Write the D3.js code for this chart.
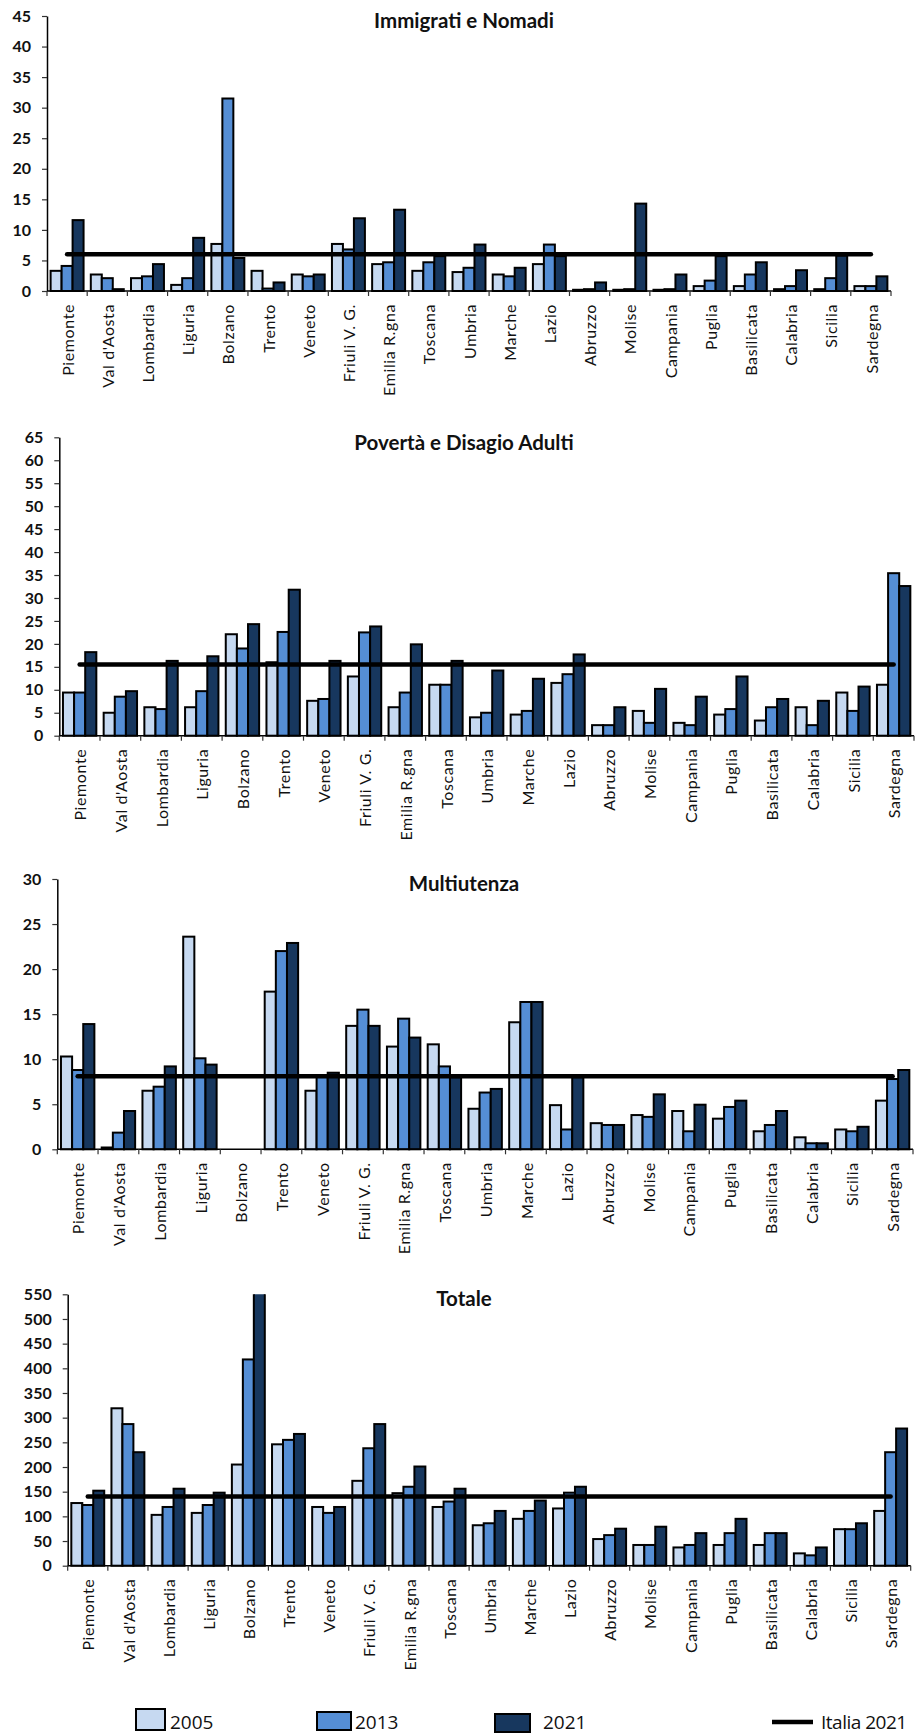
<!DOCTYPE html>
<html><head><meta charset="utf-8">
<script src="https://cdn.jsdelivr.net/npm/d3@7"></script>
<style>body{margin:0;background:#fff} svg{display:block}</style>
</head><body><svg id="c" width="916" height="1735"></svg>
<script>
const regions = ["Piemonte","Val d'Aosta","Lombardia","Liguria","Bolzano","Trento","Veneto","Friuli V. G.","Emilia R.gna","Toscana","Umbria","Marche","Lazio","Abruzzo","Molise","Campania","Puglia","Basilicata","Calabria","Sicilia","Sardegna"];
const years = ["2005","2013","2021"];
const titles = ["Immigrati e Nomadi","Povertà e Disagio Adulti","Multiutenza","Totale"];

const imm2005 = [3.3,2.7,2.1,1.0,7.7,3.3,2.7,7.7,4.4,3.3,3.1,2.7,4.4,0.2,0.2,0.2,0.8,0.8,0.3,0.3,0.8];
const imm2013 = [4.1,2.1,2.4,2.1,31.5,0.4,2.4,6.8,4.7,4.7,3.8,2.4,7.6,0.3,0.3,0.3,1.7,2.7,0.8,2.1,0.8];
const imm2021 = [11.6,0.3,4.4,8.7,5.4,1.4,2.7,11.9,13.3,5.7,7.6,3.8,5.7,1.4,14.3,2.7,5.7,4.7,3.4,5.8,2.4];

const pov2005 = [9.4,5.0,6.2,6.2,22.1,16.0,7.6,12.9,6.2,11.1,4.0,4.6,11.5,2.3,5.4,2.8,4.6,3.3,6.2,9.4,11.1];
const pov2013 = [9.4,8.5,5.8,9.7,19.0,22.6,8.0,22.5,9.4,11.1,5.0,5.4,13.4,2.3,2.8,2.3,5.8,6.2,2.3,5.4,35.4];
const pov2021 = [18.2,9.7,16.3,17.3,24.3,31.8,16.3,23.8,19.9,16.3,14.2,12.4,17.7,6.2,10.2,8.5,12.9,8.0,7.6,10.7,32.6];

const mul2005 = [10.3,0.2,6.5,23.6,null,17.5,6.5,13.7,11.4,11.65,4.5,14.1,4.9,2.9,3.8,4.25,3.4,2.0,1.33,2.2,5.4];
const mul2013 = [8.8,1.85,6.95,10.1,null,22.0,8.1,15.5,14.5,9.2,6.3,16.35,2.2,2.7,3.6,2.0,4.7,2.7,0.67,2.0,7.8];
const mul2021 = [13.9,4.25,9.2,9.4,null,22.9,8.5,13.7,12.4,8.0,6.7,16.35,8.0,2.7,6.1,4.95,5.4,4.25,0.67,2.5,8.8];

const tot2005 = [127,319,103,107,205,246,119,172,147,119,82,95,116,54,42,37,42,42,25,74,111];
const tot2013 = [123,287,119,123,418,255,107,238,160,130,86,111,148,62,42,42,66,66,21,74,230];
const tot2021 = [152,230,156,148,580,267,119,287,201,156,111,132,160,75,79,66,95,66,37,86,278];

const italia2021 = [6.0,15.5,8.1,140];
const yMax = [45,65,30,550];
const yStep = [5,5,5,50];
const legendLabels = ["2005","2013","2021","Italia 2021"];

const series = [[imm2005,imm2013,imm2021],[pov2005,pov2013,pov2021],[mul2005,mul2013,mul2021],[tot2005,tot2013,tot2021]];
const colors = ["#c6d9f1","#558ed5","#17375e"];

// layout (pixel positions)
const layout = [
  {l:47,  r:891,   t:16,     b:291,    ty:28},
  {l:59.3,r:914,   t:437.3,  b:735.7,  ty:450},
  {l:57.3,r:913,   t:879,    b:1149.3, ty:890.5},
  {l:67.7,r:910.7, t:1294.3, b:1565.7, ty:1305.5}
];

const svg = d3.select("#c");

layout.forEach((L, ci) => {
  const g = svg.append("g");
  const x = d3.scaleBand().domain(regions).range([L.l, L.r]).padding(0);
  const bw = x.bandwidth();
  const xi = d3.scaleBand().domain(years).range([bw*0.09, bw*0.91]).padding(0);
  const y = d3.scaleLinear().domain([0, yMax[ci]]).range([L.b, L.t]);

  const clipId = "clip" + ci;
  svg.append("clipPath").attr("id", clipId).append("rect")
    .attr("x", L.l - 2).attr("y", L.t).attr("width", L.r - L.l + 4).attr("height", L.b - L.t + 4);

  const bars = g.append("g").attr("clip-path", `url(#${clipId})`);
  years.forEach((yr, si) => {
    const vals = series[ci][si];
    bars.selectAll(null)
      .data(regions.map((r, i) => ({r, v: vals[i]})).filter(d => d.v != null))
      .enter().append("rect")
      .attr("x", d => x(d.r) + xi(yr))
      .attr("width", xi.bandwidth())
      .attr("y", d => y(d.v))
      .attr("height", d => Math.max(0, L.b - y(d.v)))
      .attr("fill", colors[si])
      .attr("stroke", "#000")
      .attr("stroke-width", 2);
  });

  // Italia 2021 line
  g.append("line")
    .attr("x1", x(regions[0]) + bw/2).attr("x2", x(regions[regions.length-1]) + bw/2)
    .attr("y1", y(italia2021[ci])).attr("y2", y(italia2021[ci]))
    .attr("stroke", "#000").attr("stroke-width", 4.5).attr("stroke-linecap", "round");

  // y axis
  const ya = g.append("g").attr("transform", `translate(${L.l},0)`)
    .call(d3.axisLeft(y).tickValues(d3.range(0, yMax[ci] + 0.001, yStep[ci])).tickSize(5).tickPadding(11).tickSizeOuter(0));
  ya.select(".domain").attr("stroke", "#000").attr("stroke-width", 1.5);
  ya.selectAll(".tick line").attr("stroke", "#333").attr("stroke-width", 1.2);
  ya.selectAll(".tick text").attr("font-family", "Lato").attr("font-weight", "bold").attr("font-size", 16).attr("fill", "#111");

  // x baseline + category ticks
  g.append("line").attr("x1", L.l).attr("x2", L.r).attr("y1", L.b).attr("y2", L.b)
    .attr("stroke", "#000").attr("stroke-width", 1.5);
  const bounds = regions.map(r => x(r)).concat([L.r]);
  g.selectAll(null).data(bounds).enter().append("line")
    .attr("x1", d => d).attr("x2", d => d).attr("y1", L.b).attr("y2", L.b + 5)
    .attr("stroke", "#333").attr("stroke-width", 1.2);

  g.selectAll(null).data(regions).enter().append("text")
    .attr("transform", d => `translate(${x(d) + bw/2 + 1},${L.b + 13}) rotate(-90)`)
    .attr("text-anchor", "end").attr("dy", "0.35em")
    .attr("font-family", "Lato").attr("font-size", 16).attr("letter-spacing", 0.6)
    .attr("fill", "#111")
    .text(d => d);

  g.append("text").attr("x", 464).attr("y", L.ty)
    .attr("text-anchor", "middle").attr("font-family", "Lato").attr("font-weight", "bold")
    .attr("font-size", 20.5).attr("fill", "#111").text(titles[ci]);
});

// legend
const lg = svg.append("g");
const legPos = [
  {bx:136, by:1709, bw:29, bh:21, tx:170},
  {bx:317, by:1712, bw:34, bh:18, tx:355},
  {bx:495, by:1714, bw:35, bh:18, tx:543}
];
years.forEach((yr, i) => {
  const p = legPos[i];
  lg.append("rect").attr("x", p.bx).attr("y", p.by).attr("width", p.bw).attr("height", p.bh)
    .attr("fill", colors[i]).attr("stroke", "#000").attr("stroke-width", 2);
  lg.append("text").attr("x", p.tx).attr("y", 1729).attr("font-family", "Open Sans")
    .attr("font-size", 19).attr("fill", "#111").text(legendLabels[i]);
});
lg.append("line").attr("x1", 772).attr("x2", 813).attr("y1", 1722).attr("y2", 1722)
  .attr("stroke", "#000").attr("stroke-width", 4.5);
lg.append("text").attr("x", 821).attr("y", 1729).attr("font-family", "Open Sans")
  .attr("font-size", 19).attr("letter-spacing", -0.5).attr("fill", "#111").text(legendLabels[3]);
</script></body></html>
